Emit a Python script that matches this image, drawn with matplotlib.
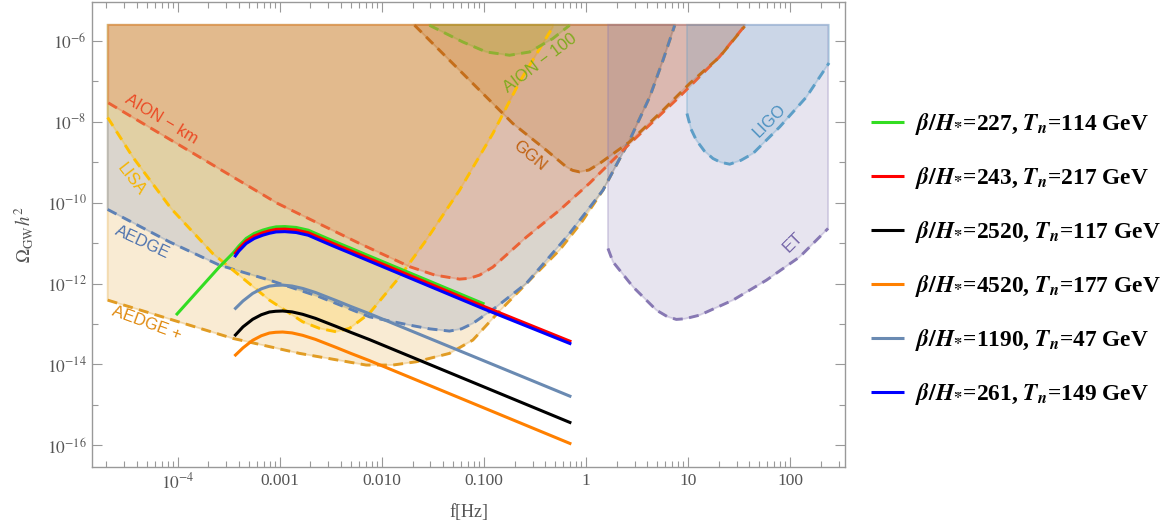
import numpy as np
import matplotlib
matplotlib.use('Agg')
import matplotlib.pyplot as plt
from matplotlib.colors import to_rgba

plt.rcParams['mathtext.fontset'] = 'stix'
plt.rcParams['font.family'] = ['Liberation Serif', 'DejaVu Serif']

# all values are log10(f / Hz) and log10(Omega_GW h^2)
top = -5.6   # upper edge of the shaded sensitivity regions

aion_km_lf = [-4.679, -3.020, -2.219, -1.728, -1.48, -1.238, -1.14, -1.042, -0.912, -0.584, -0.258, 0.036, 0.396, 0.915, 1.307, 1.552]
aion_km_lo = [-7.532, -10.019, -11.007, -11.581, -11.79, -11.89, -11.87, -11.79, -11.593, -10.852, -10.184, -9.517, -8.62, -7.384, -6.395, -5.637]

lisa_lf = [-4.686, -4.441, -4.065, -3.657, -3.101, -2.775, -2.611, -2.447, -2.317, -2.251, -2.121, -1.827, -1.565, -1.238, -0.912, -0.65, -0.324]
lisa_lo = [-7.893, -8.867, -10.142, -11.255, -12.409, -12.945, -13.108, -13.192, -13.108, -12.985, -12.735, -11.84, -10.926, -9.69, -8.289, -7.013, -5.654]

aedge_lf = [-4.686, -4.081, -3.591, -3.101, -2.611, -2.121, -1.728, -1.53, -1.337, -1.22, -1.108, -0.879, -0.584, -0.258, -0.16, 0.167, 0.428, 0.625, 0.755, 0.87]
aedge_lo = [-10.167, -10.968, -11.544, -11.915, -12.327, -12.822, -13.027, -13.12, -13.175, -13.12, -12.985, -12.58, -11.996, -11.05, -10.76, -9.69, -8.454, -7.384, -6.477, -5.612]

aedge_p_lf = [-4.686, -3.461, -2.807, -2.153, -1.892, -1.663, -1.336, -1.108, -0.846, -0.519, -0.258, -0.042, 0.167, 0.428, 0.625, 0.755, 0.87]
aedge_p_lo = [-12.409, -13.355, -13.726, -14.015, -14.015, -13.934, -13.726, -13.397, -12.68, -11.833, -11.17, -10.48, -9.69, -8.454, -7.384, -6.477, -5.612]

ggn_lf = [-1.679, -1.369, -1.042, -0.716, -0.388, -0.192, -0.13, -0.062, 0.03, 0.134, 0.428, 0.755, 1.016, 1.31, 1.555]
ggn_lo = [-5.612, -6.395, -7.218, -8.041, -8.701, -9.114, -9.2, -9.238, -9.19, -9.03, -8.496, -7.713, -7.053, -6.395, -5.637]

aion_100_lf = [-1.533, -1.206, -0.976, -0.748, -0.552, -0.324, -0.16]
aion_100_lo = [-5.612, -6.025, -6.272, -6.353, -6.272, -5.94, -5.612]

ligo_lf = [0.99, 1.03, 1.082, 1.16, 1.245, 1.32, 1.409, 1.52, 1.637, 1.899, 2.161, 2.382]
ligo_lo = [-7.794, -8.18, -8.454, -8.72, -8.907, -9.0, -9.047, -8.95, -8.783, -8.125, -7.384, -6.544]

et_lf = [0.216, 0.265, 0.461, 0.69, 0.80, 0.886, 0.97, 1.115, 1.441, 1.769, 2.095, 2.373]
et_lo = [-11.131, -11.462, -12.08, -12.656, -12.82, -12.886, -12.87, -12.78, -12.409, -11.915, -11.339, -10.637]

# phase transition spectra
green_lf = [-4.016, -3.591, -3.461, -3.40, -3.329, -3.25, -3.167, -3.10, -3.035, -2.95, -2.839, -2.72, -2.611, -2.5, -2.415, -2.3, -2.121, -0.994]
green_lo = [-12.78, -11.586, -11.255, -11.07, -10.884, -10.76, -10.679, -10.63, -10.597, -10.59, -10.612, -10.68, -10.80, -10.92, -11.01, -11.13, -11.32, -12.508]

red_lf = [-3.444, -3.40, -3.329, -3.25, -3.167, -3.10, -3.035, -2.95, -2.839, -2.72, -2.611, -2.5, -2.415, -2.3, -2.121, -0.994, -0.143]
red_lo = [-11.272, -11.133, -10.947, -10.823, -10.742, -10.693, -10.66, -10.653, -10.675, -10.743, -10.863, -10.983, -11.073, -11.193, -11.383, -12.571, -13.439]

blue_lf = [-3.444, -3.40, -3.329, -3.25, -3.167, -3.10, -3.035, -2.95, -2.839, -2.72, -2.611, -2.5, -2.415, -2.3, -2.121, -0.994, -0.143]
blue_lo = [-11.346, -11.195, -11.009, -10.885, -10.804, -10.755, -10.722, -10.715, -10.737, -10.805, -10.925, -11.045, -11.135, -11.255, -11.445, -12.633, -13.496]

gray_lf = [-3.444, -3.36, -3.265, -3.18, -3.101, -3.04, -2.971, -2.88, -2.775, -2.65, -2.447, -2.3, -2.121, -0.143]
gray_lo = [-12.639, -12.43, -12.243, -12.13, -12.063, -12.045, -12.038, -12.06, -12.12, -12.22, -12.42, -12.57, -12.745, -14.799]

black_lf = [-3.444, -3.36, -3.265, -3.18, -3.101, -3.04, -2.971, -2.88, -2.775, -2.65, -2.447, -2.3, -2.121, -0.143]
black_lo = [-13.299, -13.07, -12.883, -12.77, -12.703, -12.685, -12.678, -12.70, -12.76, -12.86, -13.06, -13.21, -13.385, -15.449]

orange_lf = [-3.444, -3.36, -3.265, -3.18, -3.101, -3.04, -2.971, -2.88, -2.775, -2.65, -2.447, -2.3, -2.121, -0.143]
orange_lo = [-13.793, -13.59, -13.403, -13.29, -13.223, -13.205, -13.198, -13.22, -13.28, -13.38, -13.58, -13.73, -13.905, -15.968]

beta_over_h = ['227', '243', '2520', '4520', '1190', '261']
t_nuc = ['114', '217', '117', '177', '47', '149']

fig = plt.figure(figsize=(11.74, 5.26), dpi=100)
ax = fig.add_axes([0.0784, 0.1122, 0.6414, 0.884])
ax.set_xscale('log')
ax.set_yscale('log')


def detector(lf, lo, color):
    f = np.power(10.0, lf)
    om = np.power(10.0, lo)
    px = np.concatenate([[f[0]], f, [f[-1]]])
    py = np.concatenate([[10.0 ** top], om, [10.0 ** top]])
    ax.fill(px, py, facecolor=to_rgba(color, 0.2), edgecolor=to_rgba(color, 0.3), lw=1.3, zorder=1)
    ax.plot(f, om, color=color, lw=2.1, dashes=(3.4, 2.2), zorder=2)


detector(aedge_p_lf, aedge_p_lo, '#E19C24')
detector(aedge_lf, aedge_lo, '#5E81B5')
detector(lisa_lf, lisa_lo, '#FFBF00')
detector(aion_km_lf, aion_km_lo, '#EB6235')
detector(ggn_lf, ggn_lo, '#C56E1A')
detector(aion_100_lf, aion_100_lo, '#8FB032')
detector(et_lf, et_lo, '#8778B3')
detector(ligo_lf, ligo_lo, '#5D9EC7')

signals = [
    (green_lf, green_lo, '#33dd22'),
    (red_lf, red_lo, '#ff0000'),
    (black_lf, black_lo, '#000000'),
    (orange_lf, orange_lo, '#ff8000'),
    (gray_lf, gray_lo, '#6a8ab2'),
    (blue_lf, blue_lo, '#0000ff'),
]
handles = []
for (lf, lo, c), b, t in zip(signals, beta_over_h, t_nuc):
    lab = (r'$\mathbfit{\beta}\mathbf{/}\mathbfit{H}_{\mathbf{*}}$=' + b +
           r', $\mathbfit{T}_{\mathbfit{n}}$=' + t + ' GeV')
    h, = ax.plot(np.power(10.0, lf), np.power(10.0, lo), color=c, lw=2.2, zorder=5,
                 solid_capstyle='butt', label=lab)
    handles.append(h)

# curve labels
lab_kw = dict(ha='center', va='center', rotation_mode='anchor', fontsize=12,
              family=['Liberation Sans', 'DejaVu Sans'], zorder=6)
ax.text(10 ** -4.16, 10 ** -7.935, 'AION \u2212 km', color='#EB4A25', rotation=-31, **lab_kw)
ax.text(10 ** -4.454, 10 ** -9.418, 'LISA', color='#F5B400', rotation=-52, **lab_kw)
ax.text(10 ** -4.346, 10 ** -10.975, 'AEDGE', color='#4F73AE', rotation=-25, **lab_kw)
ax.text(10 ** -4.307, 10 ** -12.977, 'AEDGE +', color='#E08A10', rotation=-20, **lab_kw)
ax.text(10 ** -0.552, 10 ** -8.85, 'GGN', color='#C0600F', rotation=-40, **lab_kw)
ax.text(10 ** -0.449, 10 ** -6.539, 'AION \u2212 100', color='#7FAA1E', rotation=37, **lab_kw)
ax.text(10 ** 1.80, 10 ** -7.985, 'LIGO', color='#4A90C0', rotation=45, **lab_kw)
ax.text(10 ** 2.03, 10 ** -10.975, 'ET', color='#7565A8', rotation=45, **lab_kw)

xt = [1e-4, 1e-3, 1e-2, 1e-1, 1, 10, 100]
xtl = [r'$10^{-4}$', '0.001', '0.010', '0.100', '1', '10', '100']
ax.set_xticks(xt)
ax.set_xticklabels(xtl)
ax.set_xticks([k * 10.0 ** n for n in range(-5, 3) for k in range(2, 10)], minor=True)
yt = [1e-6, 1e-8, 1e-10, 1e-12, 1e-14, 1e-16]
ax.set_yticks(yt)
ax.set_yticklabels([r'$10^{-6}$', r'$10^{-8}$', r'$10^{-10}$', r'$10^{-12}$', r'$10^{-14}$', r'$10^{-16}$'])
ax.set_yticks([1e-7, 1e-9, 1e-11, 1e-13, 1e-15], minor=True)
ax.yaxis.set_minor_formatter(plt.NullFormatter())
ax.xaxis.set_minor_formatter(plt.NullFormatter())
ax.set_xlim(10 ** -4.839, 10 ** 2.539)
ax.set_ylim(10 ** -16.536, 10 ** -5.036)

ax.tick_params(which='both', direction='in', top=True, right=True, color='#999999',
               labelcolor='#555555', labelsize=12.5, pad=4)
ax.tick_params(which='major', length=7, width=0.8)
ax.tick_params(which='minor', length=4, width=0.8)
for s in ax.spines.values():
    s.set_color('#999999')
    s.set_linewidth(1.0)

ax.set_xlabel('f[Hz]', color='#555555', fontsize=13, labelpad=8)
ax.set_ylabel(r'$\Omega_{\mathrm{GW}}h^2$', color='#555555', fontsize=13.5, labelpad=8)

fig.legend(handles=handles, loc='center left', bbox_to_anchor=(0.742, 0.508),
           frameon=False, prop={'family': 'Liberation Serif', 'weight': 'bold', 'size': 16.8},
           handlelength=1.4, handletextpad=0.48, labelspacing=1.2,
           borderpad=0, borderaxespad=0)

fig.savefig('out.png', dpi=100)
